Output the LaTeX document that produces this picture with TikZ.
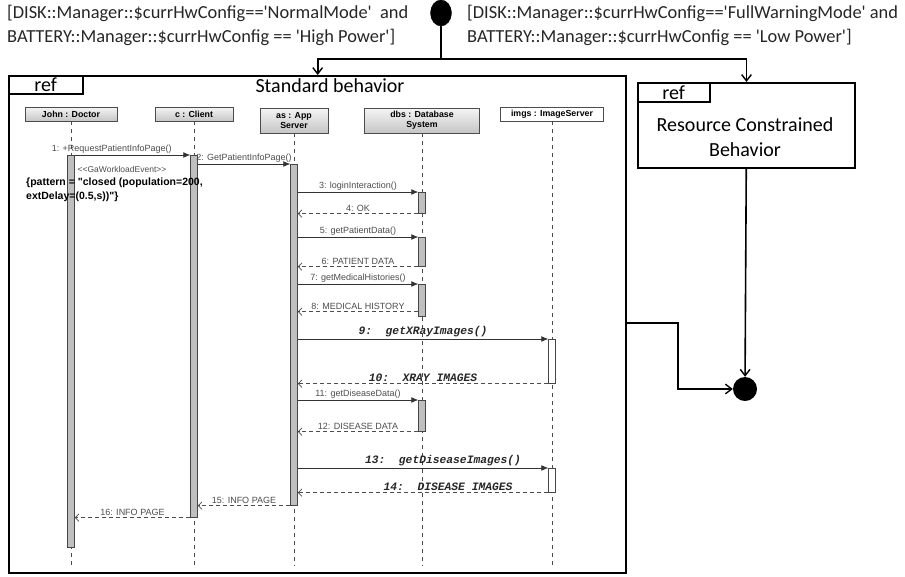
\documentclass[tikz,border=0pt]{standalone}
\usepackage{fontspec}
\setmainfont{Carlito}
\newfontfamily\seqfont{Liberation Sans}
\newfontfamily\codefont{Liberation Mono}
\usetikzlibrary{positioning,arrows.meta,calc,shapes.geometric}
\tikzset{
  frame/.style={draw, line width=2pt, inner sep=0pt},
  reftab/.style={draw, line width=1.5pt, minimum width=74pt, minimum height=18pt, inner sep=0pt, font=\fontsize{20}{22}\selectfont},
  guard/.style={align=left, inner sep=0pt, font=\fontsize{18.4}{24}\selectfont, text=black!85},
  title/.style={align=center, inner sep=0pt, font=\fontsize{20}{25}\selectfont},
  flow/.style={line width=1.6pt, -{Straight Barb[length=2.2mm, width=3.4mm, line width=1.4pt]}},
  flowline/.style={line width=1.6pt},
  lifehead/.style={draw=gray!60!black, fill=white, align=center, inner sep=1pt, line width=0.6pt, font=\seqfont\bfseries\fontsize{8.8}{10}\selectfont},
  shadedhead/.style={lifehead, top color=gray!8, bottom color=gray!45},
  lifeline/.style={draw=black!70, dash pattern=on 4pt off 4pt, line width=0.6pt},
  actbar/.style={draw=gray!55!black, fill=gray!50, minimum width=7pt, inner sep=0pt, line width=0.6pt},
  call/.style={draw=black!80, line width=0.6pt, -{Latex[length=2.4mm, width=2mm]}},
  reply/.style={draw=gray!60!black, line width=0.7pt, dash pattern=on 4pt off 3pt, -{Straight Barb[length=1.3mm, width=2.6mm]}},
  msg/.style={above, inner sep=1.5pt, text=black!70, font=\seqfont\fontsize{9}{10}\selectfont},
  codemsg/.style={above, inner sep=1.5pt, text=black!85, font=\codefont\bfseries\itshape\fontsize{11.3}{12}\selectfont},
  seqnote/.style={inner sep=0pt, text=black!70, font=\seqfont\fontsize{8.5}{10}\selectfont},
  patternnote/.style={inner sep=0pt, align=left, font=\seqfont\bfseries\fontsize{10.5}{14}\selectfont}
}
\begin{document}
\begin{tikzpicture}[x=1pt, y=-1pt]
\useasboundingbox (0,0) rectangle (905,576);
% guards and initial node
\node[draw, ellipse, fill=black, minimum width=21pt, minimum height=26pt, inner sep=0pt] (start) at (441,13) {};
\node[guard, anchor=north west] (gnormal) at (7,5) {[DISK::Manager::\$currHwConfig==\textquotesingle NormalMode\textquotesingle\ \ and\\BATTERY::Manager::\$currHwConfig == \textquotesingle High Power\textquotesingle]};
\node[guard, anchor=north west] (gwarning) at (467,5) {[DISK::Manager::\$currHwConfig==\textquotesingle FullWarningMode\textquotesingle\ and\\BATTERY::Manager::\$currHwConfig == \textquotesingle Low Power\textquotesingle]};
% fragments
\node[frame, line width=2.4pt, minimum width=617pt, minimum height=497pt, anchor=north west] (stdbox) at (8,75) {};
\node[reftab, anchor=north west] (stdref) at (stdbox.north west) {ref};
\node[title] (stdtitle) at (330,86) {Standard behavior};
\node[frame, minimum width=217pt, minimum height=85pt, anchor=north west] (rcbox) at (637,82) {};
\node[reftab, minimum width=72pt, minimum height=19pt, anchor=north west] (rcref) at (rcbox.north west) {ref};
\node[title] (rctitle) at (745,137) {Resource Constrained\\Behavior};
\node[circle, fill=black, minimum size=24pt, inner sep=0pt] (final) at (745,389) {};
% control flow
\coordinate (split) at (start |- 0,59);
\coordinate (merge) at (678,323);
\draw[flowline] (start) -- (split);
\draw[flow] (split) -| (stdbox);
\draw[flow] (split) -| (rcbox);
\draw[flow] (rcbox) -- (final);
\draw[flow] (stdbox.east |- merge) -- (merge) |- (final);
% lifelines
\node[shadedhead, minimum width=92pt, minimum height=14pt] (doctor) at (71,114) {John : Doctor};
\node[shadedhead, minimum width=78pt, minimum height=14pt] (client) at (194,114) {c : Client};
\node[shadedhead, minimum width=68pt, minimum height=25pt] (appsrv) at (294,120.5) {as : App\\Server};
\node[shadedhead, minimum width=115pt, minimum height=25pt] (dbsys) at (422,120.5) {dbs : Database\\System};
\node[lifehead, minimum width=103pt, minimum height=14pt] (imgsrv) at (552,114) {imgs : ImageServer};
\coordinate (lifeend) at (0,566);
\foreach \obj in {doctor,client,appsrv,dbsys,imgsrv}
  \draw[lifeline] (\obj) -- (\obj |- lifeend);
% activations
\node[actbar, anchor=north, minimum height=392pt] (doc1) at (doctor |- 0,155) {};
\node[actbar, anchor=north, minimum height=362pt] (cl1) at (client |- 0,155) {};
\node[actbar, anchor=north, minimum height=341pt] (as1) at (appsrv |- 0,164) {};
\foreach \name/\top/\len in {db1/192/21, db2/237/29, db3/284/32, db4/400/31}
  \node[actbar, anchor=north, minimum height=\len pt] (\name) at (dbsys |- 0,\top) {};
\foreach \name/\top/\len in {img1/339/44, img2/468/24}
  \node[actbar, fill=white, anchor=north, minimum height=\len pt] (\name) at (imgsrv |- 0,\top) {};
% messages
\draw[call] (doc1.east |- cl1.north) -- (cl1.north west) node[msg, pos=.32] {1: +RequestPatientInfoPage()};
\draw[call] (cl1.east |- as1.north) -- (as1.north west) node[msg, midway] {2: GetPatientInfoPage()};
\draw[call] (as1.east |- db1.north) -- (db1.north west) node[msg, midway] {3: loginInteraction()};
\draw[reply] (db1.south west) -- (as1.east |- db1.south) node[msg, midway] {4: OK};
\draw[call] (as1.east |- db2.north) -- (db2.north west) node[msg, midway] {5: getPatientData()};
\draw[reply] (db2.south west) -- (as1.east |- db2.south) node[msg, midway] {6: PATIENT DATA};
\draw[call] (as1.east |- db3.north) -- (db3.north west) node[msg, midway] {7: getMedicalHistories()};
\draw[reply] ($(db3.south west)+(0,-5)$) -- ($(as1.east |- db3.south)+(0,-5)$) node[msg, midway] {8: MEDICAL HISTORY};
\draw[call] (as1.east |- img1.north) -- (img1.north west) node[codemsg, midway] {9:\ \ getXRayImages()};
\draw[reply] (img1.south west) -- (as1.east |- img1.south) node[codemsg, midway] {10:\ \ XRAY IMAGES};
\draw[call] (as1.east |- db4.north) -- (db4.north west) node[msg, midway] {11: getDiseaseData()};
\draw[reply] (db4.south west) -- (as1.east |- db4.south) node[msg, midway] {12: DISEASE DATA};
\draw[call] (as1.east |- img2.north) -- (img2.north west) node[codemsg, pos=.58] {13:\ \ getDiseaseImages()};
\draw[reply] (img2.south west) -- (as1.east |- img2.south) node[codemsg, pos=.4] {14:\ \ DISEASE IMAGES};
\draw[reply] (as1.south west) -- (cl1.east |- as1.south) node[msg, midway] {15: INFO PAGE};
\draw[reply] (cl1.south west) -- (doc1.east |- cl1.south) node[msg, midway] {16: INFO PAGE};
% workload annotation
\node[seqnote] (workload) at (122,169) {\textless\textless GaWorkloadEvent\textgreater\textgreater};
\node[patternnote, anchor=north west] (pattern) at (26,178) {\{pattern = "closed (population=200,\\extDelay=(0.5,s))"\}};
\end{tikzpicture}
\end{document}
